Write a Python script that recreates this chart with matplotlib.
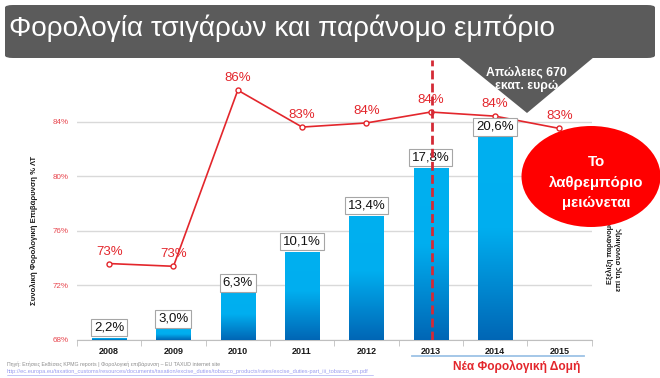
import numpy as np
import matplotlib
matplotlib.use("Agg")
import matplotlib.pyplot as plt
from matplotlib.patches import FancyBboxPatch, Polygon, Ellipse
from matplotlib.colors import LinearSegmentedColormap
from matplotlib.lines import Line2D

plt.rcParams['font.family'] = ['Liberation Sans', 'DejaVu Sans']

years = ['2008', '2009', '2010', '2011', '2012', '2013', '2014', '2015']
tax_burden = [73.6, 73.4, 86.3, 83.6, 83.9, 84.7, 84.4, 83.5]
tax_labels = ['73%', '73%', '86%', '83%', '84%', '84%', '84%', '83%']
illicit = [2.2, 3.0, 6.3, 10.1, 13.4, 17.8, 20.6]
illicit_labels = ['2,2%', '3,0%', '6,3%', '10,1%', '13,4%', '17,8%', '20,6%']
left_ticks = [68, 72, 76, 80, 84]
left_tick_labels = ['68%', '72%', '76%', '80%', '84%']
reform_year = '2013'

W, H = 660, 378
def fx(p): return p / W
def fy(p): return 1 - p / H

fig = plt.figure(figsize=(6.6, 3.78), dpi=100)
fig.patch.set_facecolor('white')

ax = fig.add_axes([fx(77), fy(340), (591.5 - 77) / W, 280 / H])
ax_b = ax.twinx()

x = np.arange(len(years))
RED = '#e3262c'

# line (left axis)
ax.set_xlim(-0.5, len(years) - 0.5)
ax.set_ylim(68, 68 + 280 / 13.65)
ax.set_yticks(left_ticks)
ax.set_yticklabels(left_tick_labels, fontsize=5.8, color='#e8474f')
ax.tick_params(axis='y', length=0, pad=6)
ax.grid(axis='y', color='#d9d9d9', linewidth=1.0)
ax.set_axisbelow(True)
for s in ['top', 'right', 'left']:
    ax.spines[s].set_visible(False)
ax.spines['bottom'].set_color('#bfbfbf')
ax.set_xticks(x)
ax.set_xticklabels(years, fontsize=6.5, fontweight='bold', color='#1a1a1a')
ax.set_xticks(np.arange(len(years) + 1) - 0.5, minor=True)
ax.tick_params(axis='x', which='major', length=0, pad=5)
ax.tick_params(axis='x', which='minor', length=4, color='#bfbfbf')
ax.plot(x, tax_burden, color=RED, linewidth=1.2, marker='o', markersize=3.6,
        markerfacecolor='white', markeredgecolor=RED, markeredgewidth=1.0, zorder=3)
for xi, v, lab in zip(x, tax_burden, tax_labels):
    ax.annotate(lab, (xi, v), xytext=(0, 8.6), textcoords='offset points',
                ha='center', va='center', fontsize=9.5, color=RED, zorder=4)
fig.text(fx(34), fy(230), 'Συνολική Φορολογική Επιβάρυνση % ΛΤ', rotation=90,
         ha='center', va='center', fontsize=5.6, fontweight='bold', color='#1a1a1a')

# bars (hidden right axis)
ax_b.set_ylim(2.0, 2.0 + 280 / 10.9)
ax_b.set_yticks([])
for s in ['top', 'right', 'left', 'bottom']:
    ax_b.spines[s].set_visible(False)
cmap = LinearSegmentedColormap.from_list('g', [(0, '#0066b5'), (0.55, '#00aeef'), (1, '#00b0f0')])
bars = ax_b.bar(x[:len(illicit)], illicit, width=0.53, bottom=0, color='#00b0f0', zorder=2)
grad = np.linspace(0, 1, 256).reshape(-1, 1)
for b in bars:
    x0, y0 = b.get_x(), 2.0
    x1, y1 = x0 + b.get_width(), b.get_height()
    im = ax_b.imshow(grad, extent=[x0, x1, y0, y1], origin='lower', cmap=cmap,
                     aspect='auto', zorder=2.1)
    im.set_clip_path(b)
ax_b.set_xlim(-0.5, len(years) - 0.5)
ax_b.set_ylim(2.0, 2.0 + 280 / 10.9)
for xi, v, lab in zip(x, illicit, illicit_labels):
    ax_b.annotate(lab, (xi, v), xytext=(0, 7.4), textcoords='offset points',
                  ha='center', va='center', fontsize=9.5, color='#111111', zorder=5,
                  bbox=dict(boxstyle='square,pad=0.22', fc='white', ec='#a6a6a6', lw=0.8))
ax_b.axvline(years.index(reform_year) + 0.02, color='#d42a36', linewidth=2.0,
             dashes=(3.2, 1.5), zorder=6)

# right-side label (partly hidden behind ellipse)
fig.text(fx(610.5), fy(284), 'Εξέλιξη παράνομου', rotation=90, ha='center',
         va='bottom', fontsize=5.2, fontweight='bold', color='#1a1a1a')
fig.text(fx(619.5), fy(291), 'επί της συνολικής', rotation=90, ha='center',
         va='bottom', fontsize=5.2, fontweight='bold', color='#1a1a1a')

# red ellipse
ell = Ellipse((fx(591), fy(176.5)), 139 / W, 101 / H, transform=fig.transFigure,
              facecolor='#ff0000', edgecolor='none', zorder=10)
fig.patches.append(ell)
for t, py in zip(['Το', 'λαθρεμπόριο', 'μειώνεται'], [162, 182.5, 203]):
    fig.text(fx(596), fy(py), t, ha='center', va='center', fontsize=10.8,
             fontweight='bold', color='white', zorder=11)

# title banner
banner = FancyBboxPatch((fx(5), fy(58)), fx(650), 53 / H,
                        boxstyle='round,pad=0,rounding_size=0.012',
                        transform=fig.transFigure, facecolor='#5b5b5b', edgecolor='none',
                        zorder=10, mutation_aspect=H / W)
fig.patches.append(banner)
fig.text(fx(9), fy(36), 'Φορολογία τσιγάρων και παράνομο εμπόριο', fontsize=20.1,
         color='white', ha='left', va='baseline', zorder=11)

# callout
poly = Polygon([(fx(458), fy(57)), (fx(594), fy(57)), (fx(527), fy(113))], closed=True,
               transform=fig.transFigure, facecolor='#5b5b5b', edgecolor='none', zorder=10)
fig.patches.append(poly)
fig.text(fx(526), fy(72), 'Απώλειες 670', ha='center', va='center', fontsize=8.8,
         fontweight='bold', color='white', zorder=11)
fig.text(fx(527), fy(86), 'εκατ. ευρώ', ha='center', va='center', fontsize=8.8,
         fontweight='bold', color='white', zorder=11)

# bottom annotations
fig.lines.append(Line2D([fx(412), fx(584)], [fy(356), fy(356)], color='#9dc3e6',
                        linewidth=1.3, transform=fig.transFigure))
fig.text(fx(517), fy(366.5), 'Νέα Φορολογική Δομή', ha='center', va='center',
         fontsize=8.6, fontweight='bold', color=RED)
fig.text(fx(7), fy(364), 'Πηγή: Ετήσιες Εκθέσεις KPMG reports | Φορολογική επιβάρυνση – EU TAXUD internet site',
         ha='left', va='center', fontsize=3.75, color='#8c8c8c')
fig.text(fx(7), fy(371.5),
         'http://ec.europa.eu/taxation_customs/resources/documents/taxation/excise_duties/tobacco_products/rates/excise_duties-part_iii_tobacco_en.pdf',
         ha='left', va='center', fontsize=4.1, color='#9a9cf0')
fig.lines.append(Line2D([fx(7), fx(373)], [fy(374.5), fy(374.5)], color='#9a9cf0',
                        linewidth=0.4, transform=fig.transFigure))

fig.savefig('out.png', dpi=100, facecolor='white')
